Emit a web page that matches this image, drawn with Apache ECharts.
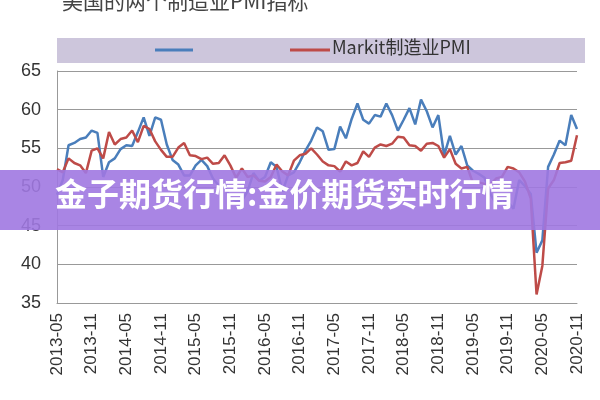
<!DOCTYPE html>
<html><head><meta charset="utf-8">
<script src="https://cdn.jsdelivr.net/npm/echarts@6/dist/echarts.min.js"></script>
<style>body{margin:0}#c{width:600px;height:400px}</style>
</head><body><div id="c"></div>
<script>
var months = []
for (var y = 2013; y <= 2020; y++) {
    for (var m = 1; m <= 12; m++) {
        if ((y === 2013 && m < 5) || (y === 2020 && m > 11)) continue
        months.push(y + '-' + (m < 10 ? '0' + m : m))
    }
}
var ism = [49.0, 50.9, 55.4, 55.7, 56.2, 56.4, 57.3, 57.0,
    51.3, 53.2, 53.7, 54.9, 55.4, 55.3, 57.1, 59.0, 56.6, 59.0, 58.7, 55.5,
    53.5, 52.9, 51.5, 51.5, 52.8, 53.5, 52.7, 51.1, 50.2, 50.1, 48.6, 48.2,
    48.2, 49.5, 51.8, 50.8, 51.3, 53.2, 52.6, 49.4, 51.5, 51.9, 53.2, 54.7,
    56.0, 57.7, 57.2, 54.8, 54.9, 57.8, 56.3, 58.8, 60.8, 58.7, 58.2, 59.3,
    59.1, 60.8, 59.3, 57.3, 58.7, 60.2, 58.1, 61.3, 59.8, 57.7, 59.3, 54.1,
    56.6, 54.2, 55.3, 52.8, 52.1, 51.7, 51.2, 49.1, 47.8, 48.3, 48.1, 47.2,
    50.9, 50.1, 49.1, 41.5, 43.1, 52.6, 54.2, 56.0, 55.4, 59.3, 57.5]
var markit = [52.3, 51.9, 53.7, 53.1, 52.8, 51.8, 54.7, 55.0,
    53.7, 57.1, 55.5, 56.2, 56.4, 57.3, 55.8, 57.9, 57.5, 55.9, 54.8, 53.9,
    53.9, 55.1, 55.7, 54.1, 54.0, 53.6, 53.8, 53.0, 53.1, 54.1, 52.8, 51.2,
    52.4, 51.3, 51.5, 50.8, 50.7, 51.3, 52.9, 52.0, 51.5, 53.4, 54.1, 54.3,
    55.0, 54.2, 53.3, 52.8, 52.7, 52.0, 53.3, 52.8, 53.1, 54.6, 53.9, 55.1,
    55.5, 55.3, 55.6, 56.5, 56.4, 55.4, 55.3, 54.7, 55.6, 55.7, 55.3, 53.8,
    54.9, 53.0, 52.4, 52.6, 50.5, 50.6, 50.4, 50.3, 51.1, 51.3, 52.6, 52.4,
    51.9, 50.7, 48.5, 36.1, 39.8, 49.8, 50.9, 53.1, 53.2, 53.4, 56.7]

var chart = echarts.init(document.getElementById('c'))
chart.setOption({
    backgroundColor: '#fff',
    animation: false,
    grid: { left: 57, right: 23, top: 71, bottom: 97 },
    xAxis: {
        type: 'category', data: months, boundaryGap: false,
        axisLine: { lineStyle: { color: '#999' } }, axisTick: { show: false },
        axisLabel: { interval: 5, rotate: 90, fontSize: 17, color: '#333', fontFamily: 'Liberation Sans', margin: 10 }
    },
    yAxis: {
        type: 'value', min: 35, max: 65, interval: 5,
        axisLine: { show: true, lineStyle: { color: '#999' } },
        axisLabel: { fontSize: 18, color: '#333', fontFamily: 'Liberation Sans', margin: 16 },
        splitLine: { lineStyle: { color: '#999' } }
    },
    series: [
        { name: 'ISM', type: 'line', data: ism, symbol: 'none', lineStyle: { color: '#4a7ebb', width: 2.5 } },
        { name: 'Markit', type: 'line', data: markit, symbol: 'none', lineStyle: { color: '#be4b48', width: 2.5 } }
    ],
    graphic: [
        { type: 'text', left: 62, top: -9, style: { text: '美国的两个制造业PMI指标', fontSize: 21, fill: '#444', fontFamily: 'Noto Sans CJK SC' } },
        { type: 'rect', shape: { x: 57, y: 38, width: 528, height: 25 }, style: { fill: '#cdc6dc' }, z: 0 },
        { type: 'line', shape: { x1: 155, y1: 50, x2: 193, y2: 50 }, style: { stroke: '#4a7ebb', lineWidth: 3 } },
        { type: 'line', shape: { x1: 290, y1: 50, x2: 330, y2: 50 }, style: { stroke: '#be4b48', lineWidth: 3 } },
        { type: 'text', left: 332, top: 38, style: { text: 'Markit制造业PMI', fontSize: 18, fill: '#333', fontFamily: 'Noto Sans CJK SC' } },
        { type: 'rect', shape: { x: 0, y: 170, width: 600, height: 60 }, style: { fill: 'rgba(160,120,225,0.9)' }, z: 100 },
        { type: 'text', left: 55, top: 178, z: 101, style: { text: '金子期货行情:金价期货实时行情', fontSize: 32, fontWeight: 'bold', fill: '#fff', fontFamily: 'Noto Sans CJK SC' } }
    ]
})
</script></body></html>
